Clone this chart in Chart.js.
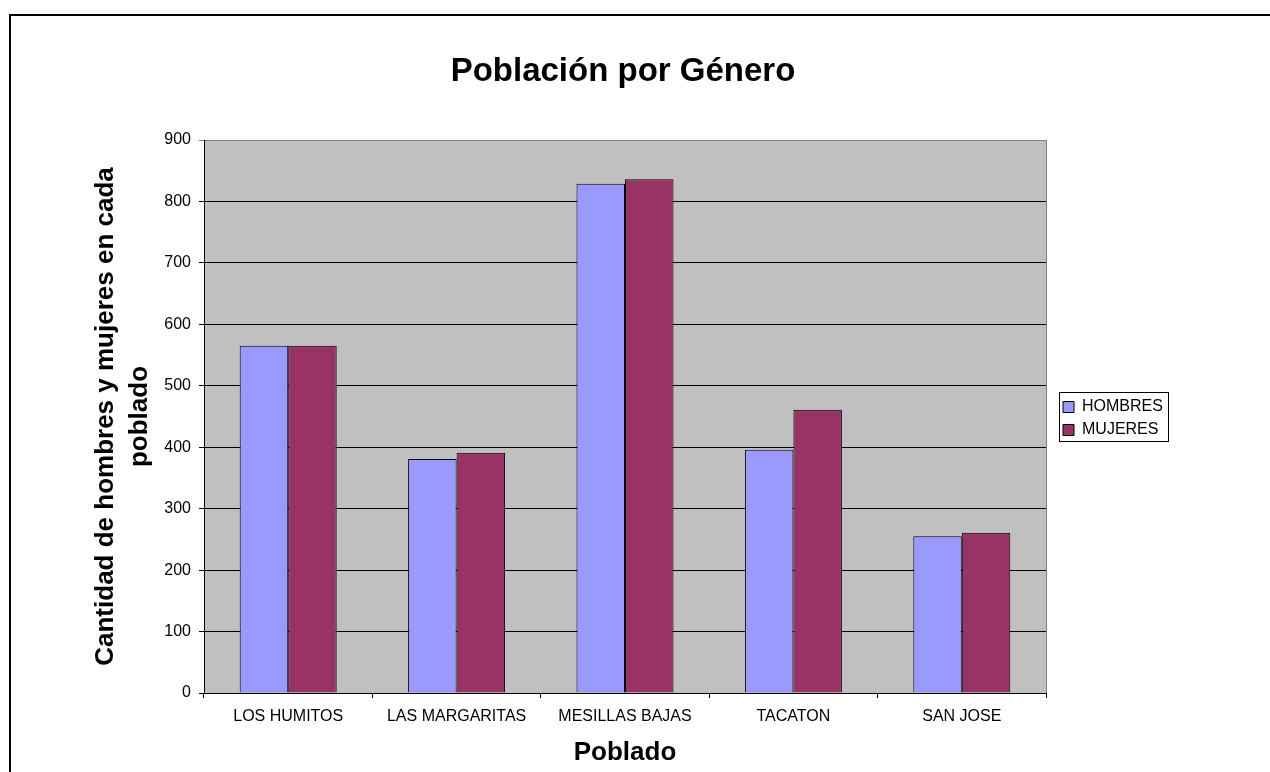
<!DOCTYPE html>
<html>
<head>
<meta charset="utf-8">
<script src="https://cdn.jsdelivr.net/npm/chart.js@4.4.1/dist/chart.umd.min.js"></script>
<style>
html,body{margin:0;padding:0;background:#fff;overflow:hidden}
#wrap{position:relative;width:1270px;height:772px}
canvas{display:block}
</style>
</head>
<body>
<div id="wrap"><canvas id="c" width="1270" height="772" style="width:1270px;height:772px"></canvas></div>
<script>
const categories = ['LOS HUMITOS', 'LAS MARGARITAS', 'MESILLAS BAJAS', 'TACATON', 'SAN JOSE'];
const hombres = [565, 381, 829, 396, 255];
const mujeres = [565, 391, 836, 461, 261];
const seriesNames = ['HOMBRES', 'MUJERES'];
const yMin = 0, yMax = 900, yStep = 100;
const chartTitle = 'Población por Género';
const yTitle = ['Cantidad de hombres y mujeres en cada', 'poblado'];
const xTitle = 'Poblado';

const FONT = "'Liberation Sans', Arial, sans-serif";
Chart.defaults.font.family = FONT;
Chart.defaults.color = '#000';

const LEGEND_WIDTH = 200;

const framePlugin = {
  id: 'frame',
  beforeLayout(chart) {
    const lg = chart.legend;
    if (lg && !lg.__wrapped) {
      const orig = lg.fit;
      lg.fit = function () { orig.call(this); this.width = LEGEND_WIDTH; };
      lg.__wrapped = true;
    }
  },
  afterLayout(chart) {
    const lg = chart.legend;
    if (lg) { lg.left += 10; lg.right += 10; lg.top += 2; lg.bottom += 2; }
  },
  beforeDraw(chart) {
    const ctx = chart.ctx, a = chart.chartArea;
    ctx.save();
    ctx.fillStyle = '#fff';
    ctx.fillRect(0, 0, chart.width, chart.height);
    ctx.strokeStyle = '#000';
    ctx.lineWidth = 2;
    ctx.strokeRect(10, 15, chart.width + 20, chart.height + 20);
    ctx.fillStyle = '#C0C0C0';
    ctx.fillRect(a.left, a.top, a.right - a.left, a.bottom - a.top);
    ctx.restore();
  },
  beforeDatasetsDraw(chart) {
    const ctx = chart.ctx, a = chart.chartArea;
    ctx.save();
    ctx.strokeStyle = '#808080';
    ctx.lineWidth = 1;
    ctx.beginPath();
    ctx.moveTo(Math.round(a.right) + 0.5, a.top);
    ctx.lineTo(Math.round(a.right) + 0.5, a.bottom);
    ctx.stroke();
    ctx.restore();
  },
  afterDraw(chart) {
    const lg = chart.legend;
    if (!lg || !lg.legendHitBoxes || !lg.legendHitBoxes.length) return;
    const hb = lg.legendHitBoxes;
    let l = Infinity, t = Infinity, r = -Infinity, b = -Infinity;
    hb.forEach(h => {
      l = Math.min(l, h.left); t = Math.min(t, h.top);
      r = Math.max(r, h.left + h.width); b = Math.max(b, h.top + h.height);
    });
    const ctx = chart.ctx;
    ctx.save();
    ctx.strokeStyle = '#000';
    ctx.lineWidth = 1;
    const x0 = Math.round(l - 4) + 0.5, y0 = Math.round(t - 7) + 0.5;
    const x1 = Math.round(r + 5) + 0.5, y1 = Math.round(b + 3) + 0.5;
    ctx.strokeRect(x0, y0, x1 - x0, y1 - y0);
    ctx.restore();
  }
};

new Chart(document.getElementById('c'), {
  type: 'bar',
  data: {
    labels: categories,
    datasets: [
      { label: seriesNames[0], data: hombres, backgroundColor: '#9999FF', borderColor: '#000', borderWidth: 1 },
      { label: seriesNames[1], data: mujeres, backgroundColor: '#993366', borderColor: '#000', borderWidth: 1 }
    ]
  },
  options: {
    responsive: false,
    animation: false,
    events: [],
    layout: { padding: { left: 0, top: 0, right: 24, bottom: 0 } },
    datasets: { bar: { categoryPercentage: 0.576, barPercentage: 1.0 } },
    plugins: {
      title: {
        display: true,
        text: chartTitle,
        font: { size: 33, weight: 'bold', lineHeight: 1.2 },
        padding: { top: 52, bottom: 48.4 },
        color: '#000'
      },
      legend: {
        display: true,
        position: 'right',
        align: 'center',
        fullSize: false,
        labels: {
          boxWidth: 11, boxHeight: 11, padding: 7,
          font: { size: 16 }, color: '#000'
        }
      },
      tooltip: { enabled: false }
    },
    scales: {
      x: {
        grid: { display: true, drawOnChartArea: false, drawTicks: true, tickLength: 5, color: '#000', offset: true },
        border: { display: true, color: '#000', width: 1 },
        ticks: { font: { size: 16 }, color: '#000', padding: 9, maxRotation: 0, autoSkip: false },
        title: { display: true, text: xTitle, font: { size: 26, weight: 'bold', lineHeight: 1.2 }, padding: { top: 0, bottom: 4 }, color: '#000' },
        afterFit(scale) { scale.height = 79; }
      },
      y: {
        min: yMin, max: yMax,
        grid: {
          color: (c) => (c.tick && c.tick.value === yMax) ? '#808080' : '#000',
          lineWidth: 1, drawTicks: true, tickLength: 5
        },
        border: { display: true, color: '#000', width: 1 },
        ticks: { stepSize: yStep, font: { size: 16 }, color: '#000', padding: 8 },
        title: { display: true, text: yTitle, font: { size: 26, weight: 'bold', lineHeight: 1.31 }, padding: { top: 89, bottom: 0 }, color: '#000' },
        afterFit(scale) { scale.width = 204; }
      }
    }
  },
  plugins: [framePlugin]
});
</script>
</body>
</html>
